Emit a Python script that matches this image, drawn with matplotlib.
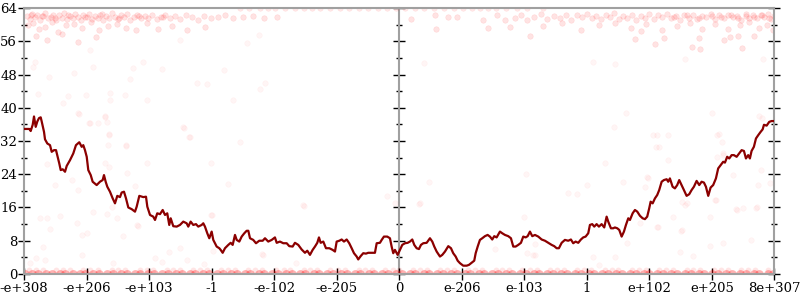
import numpy as np
import matplotlib
matplotlib.use('Agg')
import matplotlib.pyplot as plt
from matplotlib.ticker import MultipleLocator, NullFormatter

plt.rcParams['font.family'] = ['DejaVu Serif']

# tick labels along x (index space 0..12)
xtick_labels = ['-e+308', '-e+206', '-e+103', '-1', '-e-102', '-e-205', '0',
                'e-206', 'e-103', '1', 'e+102', 'e+205', '8e+307']

# the dark red trace
line_x = [0.0, 0.085, 0.107, 0.139, 0.16, 0.187, 0.213, 0.24, 0.267, 0.283, 0.32, 0.336, 0.373, 0.416,
          0.443, 0.48, 0.512, 0.532, 0.564, 0.587, 0.619, 0.656, 0.683, 0.736, 0.788, 0.831, 0.884,
          0.923, 0.948, 0.975, 1.003, 1.028, 1.067, 1.098, 1.162, 1.215, 1.258, 1.279, 1.306, 1.332,
          1.375, 1.418, 1.455, 1.492, 1.535, 1.562, 1.599, 1.631, 1.668, 1.722, 1.775, 1.802, 1.844,
          1.908, 1.951, 1.972, 2.015, 2.067, 2.095, 2.131, 2.175, 2.218, 2.255, 2.291, 2.323, 2.346,
          2.387, 2.442, 2.494, 2.547, 2.601, 2.627, 2.665, 2.707, 2.75, 2.787, 2.841, 2.867, 2.894,
          2.931, 2.963, 3.001, 3.027, 3.081, 3.123, 3.145, 3.177, 3.214, 3.267, 3.305, 3.337, 3.374,
          3.401, 3.443, 3.481, 3.523, 3.561, 3.587, 3.614, 3.666, 3.71, 3.762, 3.817, 3.854, 3.906,
          3.961, 4.013, 4.041, 4.093, 4.146, 4.201, 4.242, 4.296, 4.333, 4.386, 4.44, 4.493, 4.53,
          4.573, 4.616, 4.653, 4.69, 4.717, 4.744, 4.786, 4.829, 4.882, 4.936, 4.973, 5.0, 5.042,
          5.08, 5.117, 5.16, 5.201, 5.24, 5.277, 5.32, 5.345, 5.384, 5.425, 5.468, 5.505, 5.56,
          5.612, 5.64, 5.692, 5.72, 5.756, 5.809, 5.852, 5.879, 5.905, 5.932, 5.975, 6.012, 6.049,
          6.092, 6.135, 6.172, 6.209, 6.241, 6.279, 6.316, 6.348, 6.385, 6.439, 6.492, 6.529, 6.561,
          6.599, 6.652, 6.689, 6.732, 6.785, 6.828, 6.864, 6.903, 6.935, 6.972, 7.024, 7.079, 7.116,
          7.159, 7.2, 7.223, 7.255, 7.291, 7.328, 7.371, 7.414, 7.451, 7.488, 7.52, 7.558, 7.611,
          7.648, 7.691, 7.744, 7.787, 7.824, 7.862, 7.904, 7.947, 7.984, 8.022, 8.054, 8.091, 8.128,
          8.171, 8.224, 8.278, 8.331, 8.383, 8.438, 8.479, 8.518, 8.554, 8.598, 8.65, 8.703, 8.746,
          8.783, 8.821, 8.863, 8.906, 8.943, 8.981, 9.023, 9.05, 9.087, 9.119, 9.157, 9.194, 9.237,
          9.279, 9.317, 9.343, 9.386, 9.423, 9.449, 9.487, 9.519, 9.557, 9.594, 9.626, 9.663, 9.69,
          9.733, 9.77, 9.807, 9.85, 9.893, 9.93, 9.966, 9.998, 10.021, 10.053, 10.09, 10.126, 10.158,
          10.197, 10.233, 10.277, 10.302, 10.329, 10.372, 10.409, 10.446, 10.478, 10.516, 10.553,
          10.596, 10.638, 10.676, 10.713, 10.756, 10.798, 10.836, 10.873, 10.905, 10.942, 10.98,
          11.021, 11.065, 11.101, 11.14, 11.181, 11.209, 11.245, 11.278, 11.316, 11.353, 11.396,
          11.437, 11.476, 11.513, 11.545, 11.581, 11.608, 11.635, 11.672, 11.705, 11.741, 11.78,
          11.812, 11.833, 11.876, 11.917, 11.955, 11.992]
line_y = [34.9, 34.9, 34.4, 35.9, 37.9, 35.4, 36.7, 37.5, 37.7, 36.7, 34.2, 32.4, 31.4, 31.0,
          29.4, 29.8, 29.8, 28.6, 26.6, 25.0, 25.2, 24.6, 26.0, 27.4, 29.0, 31.0, 31.7,
          30.6, 31.0, 29.8, 28.2, 25.0, 23.8, 22.2, 21.4, 22.2, 22.6, 23.8, 22.2, 21.0,
          19.8, 18.2, 17.0, 18.8, 18.5, 19.6, 19.8, 18.2, 16.0, 15.6, 15.0, 16.2, 18.8,
          18.5, 18.6, 16.2, 14.2, 13.8, 13.0, 14.6, 14.4, 15.4, 14.2, 14.6, 11.8, 13.4,
          11.5, 11.4, 11.8, 12.6, 12.2, 11.4, 12.6, 11.8, 12.0, 11.4, 11.8, 12.2, 11.4,
          9.8, 8.6, 10.2, 8.2, 6.6, 6.2, 5.8, 5.1, 6.2, 7.0, 7.5, 7.0, 9.4,
          8.2, 7.8, 9.0, 9.8, 10.4, 10.4, 8.6, 8.2, 7.4, 8.0, 8.0, 8.6, 7.8,
          8.2, 8.8, 7.5, 7.8, 7.4, 7.4, 6.7, 6.6, 7.5, 7.0, 5.9, 5.1, 5.6,
          4.6, 5.8, 6.6, 7.5, 8.8, 7.5, 7.8, 6.2, 6.2, 5.8, 5.4, 7.8, 8.0,
          8.3, 7.8, 8.3, 7.4, 6.2, 5.0, 4.2, 3.5, 4.3, 5.0, 4.9, 5.1, 5.1,
          5.1, 7.4, 7.5, 8.2, 9.0, 9.0, 8.6, 6.6, 5.0, 5.8, 4.6, 5.8, 7.0,
          7.4, 7.5, 7.8, 8.3, 7.0, 6.2, 6.0, 7.0, 7.4, 7.5, 8.6, 7.8, 6.6,
          5.4, 4.2, 4.6, 5.4, 6.7, 6.2, 5.0, 4.2, 3.2, 2.6, 2.0, 2.0, 2.2,
          2.7, 3.2, 5.0, 6.6, 8.2, 8.6, 9.1, 9.4, 9.0, 8.3, 9.1, 8.8, 10.2,
          9.8, 9.4, 9.1, 8.6, 6.6, 6.6, 7.0, 7.5, 9.0, 8.8, 9.1, 10.2, 9.1,
          9.4, 9.0, 8.3, 8.0, 7.5, 7.0, 6.7, 6.2, 6.2, 7.5, 8.2, 8.0, 8.3,
          7.4, 7.8, 7.5, 8.3, 8.8, 9.0, 9.8, 11.8, 12.0, 11.4, 12.0, 11.4, 12.0,
          11.2, 13.8, 12.6, 11.0, 11.0, 11.2, 11.0, 10.6, 9.0, 10.2, 11.8, 13.4, 13.0,
          14.6, 15.4, 15.0, 14.0, 13.4, 13.2, 13.8, 15.8, 17.4, 17.0, 18.2, 19.0, 20.2,
          22.2, 22.6, 22.8, 22.2, 23.0, 21.0, 20.6, 21.4, 22.6, 21.4, 20.2,
          18.8, 19.2, 20.2, 21.0, 22.4, 21.4, 22.2, 22.0, 21.0, 18.8, 20.8,
          21.4, 23.0, 25.4, 26.2, 27.0, 26.8, 28.2, 27.8, 28.6, 28.6, 28.2,
          29.0, 29.8, 29.6, 27.8, 28.6, 27.8, 29.6, 30.6, 32.6, 33.4, 34.2,
          34.8, 35.9, 35.7, 36.6, 36.8, 36.8]

# faint sample points: dense band near the top on the left
top_left = [(0.04, 62.1), (0.09, 61.4), (0.13, 62.6), (0.17, 61.8), (0.21, 62.3), (0.26, 61.1), (0.3, 62.0),
            (0.34, 62.7), (0.38, 61.5), (0.43, 61.9), (0.47, 62.4), (0.51, 61.2), (0.56, 62.2), (0.6, 61.7),
            (0.64, 62.8), (0.69, 61.3), (0.73, 62.0), (0.78, 61.6), (0.82, 62.5), (0.86, 61.9), (0.91, 61.0),
            (0.95, 62.3), (1.0, 61.8), (1.04, 62.6), (1.09, 61.4), (1.13, 62.1), (1.18, 61.7), (1.22, 62.4),
            (1.27, 61.2), (1.31, 62.0), (1.36, 61.6), (1.41, 62.7), (1.45, 61.9), (1.5, 61.3), (1.55, 62.2),
            (1.6, 61.8), (1.65, 62.5), (1.7, 61.0), (1.76, 61.9), (1.81, 62.3), (1.87, 61.5), (1.93, 62.0),
            (1.99, 61.7), (2.05, 62.4), (2.12, 61.3), (2.19, 61.9), (2.26, 62.2), (2.34, 61.6), (2.42, 62.0),
            (2.5, 61.4), (2.59, 62.3), (2.68, 61.8), (2.78, 61.2), (2.88, 62.1), (2.99, 61.7), (3.1, 61.9),
            (3.22, 62.4), (3.35, 61.5), (3.5, 61.8), (3.66, 62.0), (3.84, 61.6), (4.05, 61.9),
            (0.07, 59.8), (0.15, 60.4), (0.24, 58.9), (0.33, 59.5), (0.45, 60.7), (0.55, 58.3), (0.67, 59.9),
            (0.8, 60.2), (0.93, 59.1), (1.07, 60.6), (1.2, 58.7), (1.34, 59.6), (1.48, 60.1), (1.63, 59.3),
            (1.79, 58.6), (1.96, 60.3), (2.15, 59.0), (2.36, 59.7), (2.6, 58.8), (2.9, 59.4),
            (0.11, 62.4), (0.28, 62.0), (0.5, 61.6), (0.71, 62.2), (0.97, 61.8), (1.24, 62.5), (1.52, 61.5),
            (1.84, 62.1), (2.22, 61.9), (0.19, 57.2), (0.36, 56.4), (0.6, 57.8), (0.86, 55.9), (1.15, 57.0)]

# dense band near the top on the right
top_right = [(7.85, 61.6), (7.95, 62.3), (8.05, 61.2), (8.16, 61.9), (8.26, 62.5), (8.37, 61.4), (8.47, 62.0),
             (8.57, 61.7), (8.66, 62.4), (8.75, 61.1), (8.84, 62.2), (8.92, 61.8), (9.0, 62.6), (9.08, 61.5),
             (9.15, 62.0), (9.22, 61.3), (9.3, 62.3), (9.37, 61.9), (9.44, 62.7), (9.51, 61.4), (9.58, 62.1),
             (9.65, 61.6), (9.72, 62.4), (9.79, 61.2), (9.86, 62.0), (9.93, 61.7), (10.0, 62.5), (10.07, 61.3),
             (10.14, 62.2), (10.21, 61.8), (10.28, 62.6), (10.35, 61.5), (10.42, 62.0), (10.49, 61.1),
             (10.56, 62.3), (10.63, 61.7), (10.7, 62.4), (10.77, 61.4), (10.84, 62.1), (10.91, 61.9),
             (10.98, 62.6), (11.05, 61.3), (11.12, 62.2), (11.19, 61.6), (11.26, 62.4), (11.33, 61.8),
             (11.4, 62.0), (11.47, 61.2), (11.54, 62.5), (11.6, 61.7), (11.66, 62.2), (11.72, 61.5),
             (11.78, 62.3), (11.84, 61.9), (11.9, 62.6), (11.95, 61.4), (11.99, 62.0),
             (8.3, 59.6), (8.6, 60.3), (8.9, 58.8), (9.2, 59.9), (9.45, 60.5), (9.7, 59.2), (9.95, 60.1),
             (10.2, 58.6), (10.45, 59.7), (10.65, 60.4), (10.85, 59.0), (11.05, 60.2), (11.25, 58.9),
             (11.45, 59.8), (11.6, 60.6), (11.75, 59.3), (11.88, 60.0), (11.97, 58.7),
             (10.4, 61.9), (10.6, 62.2), (10.8, 61.6), (11.0, 62.0), (11.15, 61.8), (11.3, 62.3), (11.42, 61.5),
             (11.55, 62.1), (11.68, 61.9), (11.8, 62.4), (11.92, 61.7),
             (6.19, 61.4), (6.57, 62.3), (6.78, 61.8), (6.92, 61.8), (6.59, 59.0), (7.34, 61.1), (7.56, 62.3),
             (7.42, 59.2), (8.09, 57.3), (7.69, 61.1), (7.77, 59.4), (9.77, 56.5), (9.87, 58.5), (10.23, 56.8),
             (10.09, 55.3), (10.68, 54.6), (10.81, 54.1), (10.79, 56.8), (11.19, 56.3), (11.29, 57.0),
             (11.48, 54.4), (11.67, 57.3), (11.42, 57.3)]

# row of points pinned to the top edge in the middle
top_edge_x = [3.45, 3.6, 3.78, 3.9, 4.02, 4.18, 4.33, 4.47, 4.6, 4.74, 4.9, 5.05, 5.2, 5.36, 5.5, 5.66,
              5.8, 5.95, 6.1, 6.26, 6.4, 6.55, 6.72, 6.88, 7.02, 7.16, 7.3, 7.42, 7.55, 7.7, 7.88, 8.05, 8.3]
top_edge_y = 63.9

# rows along the bottom
bottom_x = [0.02, 0.13, 0.22, 0.35, 0.44, 0.57, 0.66, 0.78, 0.89, 0.98, 1.11, 1.2, 1.33, 1.42, 1.55, 1.64,
            1.77, 1.86, 1.99, 2.08, 2.21, 2.3, 2.43, 2.52, 2.65, 2.74, 2.87, 2.96, 3.09, 3.18, 3.31, 3.4,
            3.53, 3.62, 3.75, 3.84, 3.97, 4.06, 4.19, 4.28, 4.41, 4.5, 4.63, 4.72, 4.85, 4.94, 5.07, 5.16,
            5.29, 5.38, 5.51, 5.6, 5.73, 5.82, 5.95, 6.04, 6.17, 6.26, 6.39, 6.48, 6.61, 6.7, 6.83, 6.92,
            7.05, 7.14, 7.27, 7.36, 7.49, 7.58, 7.71, 7.8, 7.93, 8.02, 8.15, 8.24, 8.37, 8.46, 8.59, 8.68,
            8.81, 8.9, 9.03, 9.12, 9.25, 9.34, 9.47, 9.56, 9.69, 9.78, 9.91, 10.0, 10.13, 10.22, 10.35,
            10.44, 10.57, 10.66, 10.79, 10.88, 11.01, 11.1, 11.23, 11.32, 11.45, 11.54, 11.67, 11.76,
            11.89, 11.98]
bottom_y = 0.0
bottom2_x = [0.08, 0.3, 0.51, 0.74, 0.95, 1.18, 1.4, 1.61, 1.85, 2.06, 2.28, 2.5, 2.71, 2.93, 3.15, 3.38,
             3.59, 3.81, 4.03, 4.26, 4.47, 4.69, 4.9, 5.13, 5.35, 5.56, 5.78, 6.0, 6.22, 6.45, 6.66, 6.88,
             7.1, 7.32, 7.54, 7.75, 7.97, 8.2, 8.41, 8.63, 8.85, 9.07, 9.29, 9.5, 9.72, 9.94, 10.16, 10.38,
             10.6, 10.81, 11.03, 11.25, 11.47, 11.69, 11.9,
             0.19, 0.62, 1.06, 1.5, 1.96, 2.39, 2.82, 3.27, 3.7, 4.15, 4.58, 5.02, 5.46, 5.9, 6.34,
             6.77, 7.21, 7.65, 8.09, 8.52, 8.96, 9.4, 9.83, 10.27, 10.7, 11.14, 11.58]
bottom2_y = 0.9

# scattered stragglers
loose = [(0.18, 51.0), (0.14, 49.8), (0.8, 48.4), (1.06, 53.9), (1.1, 49.8), (0.7, 42.8), (0.62, 41.1),
         (0.4, 47.4), (0.22, 43.3), (0.88, 38.5), (0.99, 43.1), (1.04, 36.3), (1.38, 43.5), (1.38, 41.9),
         (1.62, 43.1), (1.7, 46.9), (1.74, 49.6), (1.9, 51.0), (1.96, 41.9), (2.21, 49.3), (1.3, 37.8),
         (1.32, 36.6), (1.36, 33.4), (1.63, 30.8), (2.56, 35.1), (2.64, 33.0), (2.77, 46.0), (2.92, 45.7),
         (3.2, 49.1), (3.34, 41.9), (3.45, 31.8), (3.77, 44.5), (3.85, 46.0), (3.57, 55.6), (3.76, 57.5),
         (2.49, 56.3), (0.87, 38.7), (1.06, 36.3), (1.18, 36.3), (1.3, 38.0), (1.36, 33.7), (1.35, 31.0),
         (1.63, 31.0), (2.54, 35.4), (2.65, 33.0), (2.99, 26.7), (1.96, 26.7), (1.65, 24.3), (1.78, 21.2),
         (1.36, 25.7), (1.3, 26.7), (0.37, 26.5), (0.5, 21.4), (0.77, 22.6), (0.87, 20.2), (0.58, 14.0),
         (0.26, 13.5), (0.37, 13.5), (0.42, 10.8), (1.1, 14.9), (0.85, 12.3), (0.93, 9.4), (1.0, 9.9),
         (1.33, 14.4), (1.41, 16.1), (1.49, 13.5), (1.81, 11.8), (1.58, 9.1), (2.99, 14.2), (0.31, 6.5),
         (0.19, 3.8), (0.34, 3.4), (0.1, 2.6), (0.92, 4.6), (1.43, 2.6), (2.1, 3.8), (2.2, 2.9), (2.32, 5.3),
         (2.49, 6.3), (2.6, 3.4), (2.88, 2.4), (3.26, 21.7), (1.83, 11.5), (8.03, 24.0), (6.48, 22.1),
         (6.32, 16.8), (5.8, 18.8), (4.48, 16.4), (5.93, 17.1), (8.0, 13.7), (7.53, 6.0), (3.82, 4.6),
         (4.35, 2.6), (8.14, 4.6), (4.46, 16.6), (3.8, 4.8), (3.0, 14.2), (3.02, 5.5), (6.33, 17.1),
         (8.04, 5.0), (8.17, 7.2), (9.1, 4.1), (9.45, 4.1), (9.19, 2.2), (9.29, 26.7), (10.3, 27.4),
         (11.18, 28.6), (9.0, 21.4), (9.58, 22.1), (9.96, 23.3), (8.7, 19.5), (8.84, 19.2), (10.52, 17.3),
         (10.6, 17.1), (11.05, 17.8), (11.4, 15.4), (11.5, 15.9), (11.74, 21.4), (11.93, 21.9),
         (11.72, 16.1), (10.38, 13.7), (10.14, 11.3), (10.97, 13.7), (10.52, 10.6), (10.97, 6.7),
         (10.7, 4.3), (11.18, 7.5), (11.62, 8.2), (10.49, 5.3), (9.64, 7.5), (8.17, 4.6), (9.63, 38.7),
         (9.43, 35.4), (10.06, 33.4), (10.12, 33.4), (10.3, 33.4), (10.11, 30.6), (10.15, 30.6),
         (11.0, 38.7), (11.08, 33.4), (11.11, 33.7), (11.16, 31.8), (11.18, 29.1), (11.08, 28.2),
         (11.75, 38.0), (11.8, 37.5), (11.34, 23.8), (11.79, 25.0), (9.98, 23.1), (9.93, 21.0),
         (11.07, 17.8), (11.38, 15.6), (11.7, 15.9), (9.85, 12.3), (10.12, 11.3), (10.5, 10.3),
         (10.57, 16.6), (6.4, 50.8), (9.1, 51.0), (9.45, 50.5), (10.57, 51.7), (11.82, 51.7)]

grey = '#a0a0a0'
red = '#ff0000'

fig = plt.figure(figsize=(8, 3), dpi=100)
ax = fig.add_axes([0.03, 0.0867, 0.938, 0.8866])

tl = np.array(top_left)
tr = np.array(top_right)
lo = np.array(loose)
ax.scatter(tl[:, 0], tl[:, 1], s=16, color=red, alpha=0.11, linewidths=0.4, zorder=2)
ax.scatter(tr[:, 0], tr[:, 1], s=16, color=red, alpha=0.11, linewidths=0.4, zorder=2)
ax.scatter(lo[:, 0], lo[:, 1], s=16, color=red, alpha=0.04, linewidths=0.4, zorder=2)
ax.scatter(top_edge_x, [top_edge_y] * len(top_edge_x), s=16, color=red, alpha=0.09,
           linewidths=0.4, zorder=2)
ax.scatter(bottom_x, [bottom_y] * len(bottom_x), s=40, color=red, alpha=0.3,
           linewidths=0, zorder=2)
ax.scatter(bottom2_x, [bottom2_y] * len(bottom2_x), s=18, color=red, alpha=0.1,
           linewidths=0, zorder=2)

ax.plot(line_x, line_y, color='#8b0000', lw=1.6, zorder=4)

ax.set_xlim(0, 12)
ax.set_ylim(0, 64)
ax.set_xticks(range(13))
ax.set_xticklabels(xtick_labels, fontsize=9.5)
ax.yaxis.set_major_locator(MultipleLocator(8))
ax.yaxis.set_minor_locator(MultipleLocator(4))
ax.tick_params(axis='y', which='major', direction='inout', length=8, width=1, color='black',
               left=True, right=True, labelsize=9.5, pad=1)
ax.tick_params(axis='y', which='minor', direction='inout', length=4, width=1, color='black',
               left=True, right=True)
ax.tick_params(axis='x', which='major', direction='inout', length=8, width=1, color='black',
               labelsize=9.5, pad=2)

for s in ax.spines.values():
    s.set_color(grey)
    s.set_linewidth(1.5)

# zero axis in the middle, ticks only
mid = ax.secondary_yaxis(0.5)
mid.yaxis.set_major_locator(MultipleLocator(8))
mid.yaxis.set_minor_locator(MultipleLocator(4))
mid.yaxis.set_major_formatter(NullFormatter())
mid.tick_params(which='major', direction='inout', length=8, width=1, color='black')
mid.tick_params(which='minor', direction='inout', length=4, width=1, color='black')
for s in mid.spines.values():
    s.set_color(grey)
    s.set_linewidth(1.5)

fig.savefig('out.png', dpi=100)
